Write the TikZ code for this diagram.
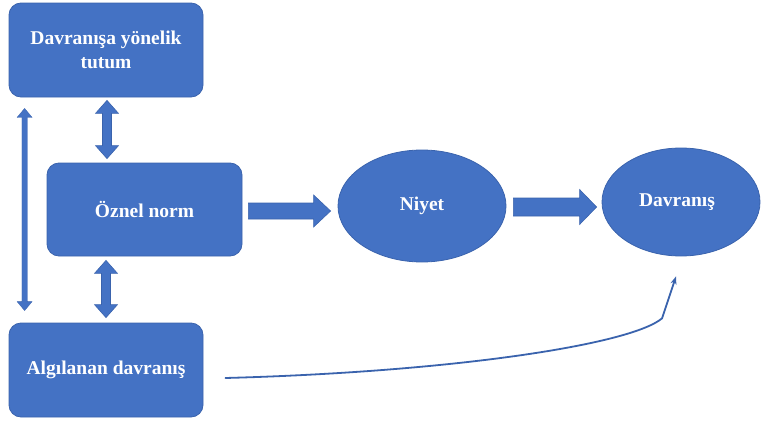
\documentclass[tikz,border=0pt]{standalone}
\usepackage{fontspec}
\setmainfont{Liberation Serif}
\usetikzlibrary{calc,arrows.meta,shapes.geometric}

\definecolor{boxblue}{HTML}{4472C4}
\definecolor{edgeblue}{HTML}{3A63AD}

\tikzset{
  shapebase/.style={fill=boxblue, draw=edgeblue, line width=0.8pt,
    text=white, font=\fontsize{19.5}{24}\selectfont\bfseries, align=center,
    inner sep=0pt},
  roundbox/.style={shapebase, rectangle, rounded corners=12pt},
  ovalnode/.style={shapebase, ellipse},
  blockarrow/.style={fill=boxblue, draw=edgeblue, line width=0.6pt, line join=miter},
  curvearrow/.style={draw=edgeblue, line width=1.8pt, line cap=round,
    -{Stealth[length=8pt,width=6pt]}}
}

\begin{document}
\begin{tikzpicture}[x=1pt, y=-1pt]
  \useasboundingbox (0,0) rectangle (761,423);

  % Boxes on the left
  \node[roundbox, minimum width=194pt, minimum height=94pt] (tu) at (106,50)
    {Davranışa yönelik\\tutum};
  \node[roundbox, minimum width=195pt, minimum height=93pt] (oz) at (144.5,209.5)
    {Öznel norm};
  \node[roundbox, minimum width=194pt, minimum height=94pt] (al) at (106,370)
    {\raisebox{-10pt}{Algılanan davranış}};

  % Ovals on the right
  \node[ovalnode, minimum width=168pt, minimum height=112pt] (ni) at (422,206)
    {Niyet};
  \node[ovalnode, minimum width=158pt, minimum height=108pt] (dv) at (681,202)
    {\hspace*{-8pt}Davranış};

  % Block arrow: Öznel norm -> Niyet
  \coordinate (a1) at ($(oz.east)+(6,1.5)$);
  \coordinate (a2) at ($(ni.west)+(-7,0)$);
  \coordinate (a2) at (a2 |- a1);
  \filldraw[blockarrow] ($(a1)+(0,-8)$) -- ($(a2)+(-17,-8)$) -- ($(a2)+(-17,-16)$)
    -- (a2) -- ($(a2)+(-17,16)$) -- ($(a2)+(-17,8)$) -- ($(a1)+(0,8)$) -- cycle;

  % Block arrow: Niyet -> Davranış
  \coordinate (b1) at ($(ni.east)+(7,0)$);
  \coordinate (b2) at ($(dv.west)+(-5,5)$);
  \coordinate (b1) at (b1 |- b2);
  \filldraw[blockarrow] ($(b1)+(0,-9)$) -- ($(b2)+(-17,-9)$) -- ($(b2)+(-17,-17.5)$)
    -- (b2) -- ($(b2)+(-17,17.5)$) -- ($(b2)+(-17,9)$) -- ($(b1)+(0,9)$) -- cycle;

  % Double arrow: tutum <-> Öznel norm
  \coordinate (t1) at ($(tu.south)+(1,3)$);
  \coordinate (t2) at ($(t1 |- oz.north)+(0,-4)$);
  \filldraw[blockarrow] (t1) -- ($(t1)+(11.5,13)$) -- ($(t1)+(4.5,13)$)
    -- ($(t2)+(4.5,-13)$) -- ($(t2)+(11.5,-13)$) -- (t2) -- ($(t2)+(-11.5,-13)$)
    -- ($(t2)+(-4.5,-13)$) -- ($(t1)+(-4.5,13)$) -- ($(t1)+(-11.5,13)$) -- cycle;

  % Double arrow: Öznel norm <-> Algılanan davranış
  \coordinate (u1) at ($(al.north |- oz.south)+(0,4)$);
  \coordinate (u2) at ($(al.north)+(0,-5)$);
  \filldraw[blockarrow] (u1) -- ($(u1)+(11.5,13)$) -- ($(u1)+(4.5,13)$)
    -- ($(u2)+(4.5,-13)$) -- ($(u2)+(11.5,-13)$) -- (u2) -- ($(u2)+(-11.5,-13)$)
    -- ($(u2)+(-4.5,-13)$) -- ($(u1)+(-4.5,13)$) -- ($(u1)+(-11.5,13)$) -- cycle;

  % Thin double arrow: tutum <-> Algılanan davranış
  \coordinate (v1) at ($(tu.south west)+(16,11)$);
  \coordinate (v2) at ($(al.north west)+(16,-12)$);
  \filldraw[blockarrow, line width=0.3pt] (v1) -- ($(v1)+(7.5,9)$) -- ($(v1)+(2.7,9)$)
    -- ($(v2)+(2.7,-9)$) -- ($(v2)+(7.5,-9)$) -- (v2) -- ($(v2)+(-7.5,-9)$)
    -- ($(v2)+(-2.7,-9)$) -- ($(v1)+(-2.7,9)$) -- ($(v1)+(-7.5,9)$) -- cycle;

  % Curved arrow: Algılanan davranış -> Davranış
  \coordinate (cstart) at ($(al.east)+(22,8)$);
  \coordinate (ctip) at ($(dv.south)+(-5,20)$);
  \coordinate (ckink) at ($(ctip)+(-14,42)$);
  \draw[curvearrow] (cstart) .. controls (450,372) and (630,345) .. (ckink) -- (ctip);
\end{tikzpicture}
\end{document}
